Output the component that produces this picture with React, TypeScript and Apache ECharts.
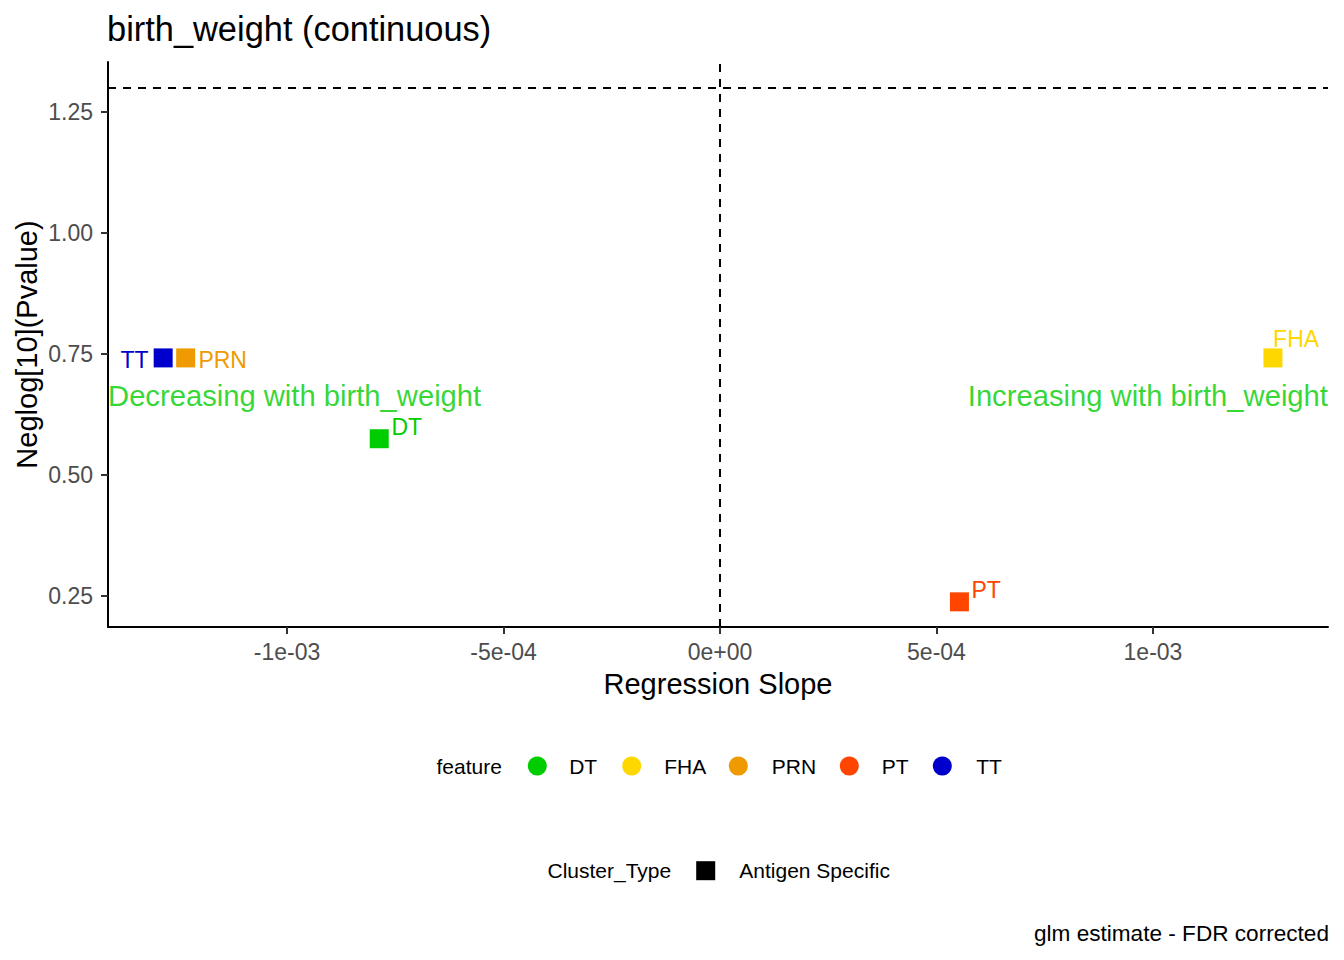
import React, { useEffect, useRef } from "react";
import * as echarts from "echarts";

const FONT = "'Liberation Sans', Arial, Helvetica, sans-serif";

// ---- data ----
const features = ["DT", "FHA", "PRN", "PT", "TT"];
const featureColors = ["#00CD00", "#FFD700", "#EE9A00", "#FF4500", "#0000CD"];
const regressionSlope = [-7.87e-4, 1.277e-3, -1.234e-3, 5.53e-4, -1.286e-3];
const neglogP = [0.575, 0.742, 0.742, 0.238, 0.742];

const xTickValues = [-1e-3, -5e-4, 0, 5e-4, 1e-3];
const xTickLabels = ["-1e-03", "-5e-04", "0e+00", "5e-04", "1e-03"];
const yTickValues = [0.25, 0.5, 0.75, 1.0, 1.25];
const yTickLabels = ["0.25", "0.50", "0.75", "1.00", "1.25"];

const xLimits = [-1.4134e-3, 1.4042e-3];
const yLimits = [0.186, 1.3534];

const significanceLine = 1.30103;
const zeroSlopeLine = 0;

const annotationTexts = ["Decreasing with birth_weight", "Increasing with birth_weight"];
const annotationY = 0.663;

const titleText = "birth_weight (continuous)";
const xAxisTitle = "Regression Slope";
const yAxisTitle = "Neglog[10](Pvalue)";
const captionText = "glm estimate - FDR corrected";
const featureLegendTitle = "feature";
const clusterLegendTitle = "Cluster_Type";
const clusterTypes = ["Antigen Specific"];

// ---- layout (style only) ----
// label placement relative to the square's top-left corner
const labelPlacement: Record<string, { pos: [number, number]; align: string }> = {
  DT: { pos: [21.7, -2.7], align: "left" },
  FHA: { pos: [9.7, -9.5], align: "left" },
  PRN: { pos: [22.2, 11.7], align: "left" },
  PT: { pos: [21.5, -2], align: "left" },
  TT: { pos: [-5, 11.7], align: "right" },
};
// feature legend key positions (circle centre x, text x)
const legendCircleX = [537.3, 631.7, 738.3, 849.3, 942.3];
const legendTextX = [569.2, 664.2, 771.8, 881.8, 976.2];
const legendY = 766;

function labelFor(values: number[], labels: string[], v: number) {
  const i = values.findIndex((t) => Math.abs(t - v) < 1e-12);
  return i >= 0 ? labels[i] : "";
}

function legendText(text: string, x: number, y: number, size: number, align = "left") {
  return {
    type: "text",
    x,
    y,
    silent: true,
    style: {
      text,
      fontSize: size,
      fontFamily: FONT,
      fill: "#000",
      align,
      verticalAlign: "middle",
      textAlign: align,
      textVerticalAlign: "middle",
    },
  };
}

export default function App() {
  const ref = useRef<HTMLDivElement>(null);

  useEffect(() => {
    document.body.style.margin = "0";
    if (!ref.current) return;
    const chart = echarts.init(ref.current, undefined, { renderer: "svg" });

    const featureSeries = features.map((f, i) => ({
      name: f,
      type: "scatter",
      symbol: "rect",
      symbolSize: 19,
      itemStyle: { color: featureColors[i], opacity: 1 },
      z: 3,
      data: [
        {
          value: [regressionSlope[i], neglogP[i]],
          label: {
            show: true,
            formatter: f,
            position: labelPlacement[f].pos,
            align: labelPlacement[f].align,
            verticalAlign: "middle",
            color: featureColors[i],
            fontSize: 23,
            fontFamily: FONT,
          },
        },
      ],
    }));

    const annotationSeries = {
      name: "annotations",
      type: "scatter",
      symbol: "circle",
      symbolSize: 0.1,
      clip: false,
      silent: true,
      itemStyle: { color: "rgba(0,0,0,0)" },
      z: 2,
      data: [
        {
          value: [xLimits[0], annotationY],
          label: {
            show: true,
            formatter: annotationTexts[0],
            position: "right",
            distance: 0,
            align: "left",
            verticalAlign: "middle",
            color: "#00CD00",
            fontSize: 29.2,
            fontFamily: FONT,
          },
        },
        {
          value: [xLimits[1], annotationY],
          label: {
            show: true,
            formatter: annotationTexts[1],
            position: "left",
            distance: 0,
            align: "right",
            verticalAlign: "middle",
            color: "#00CD00",
            fontSize: 29.2,
            fontFamily: FONT,
          },
        },
      ],
      markLine: {
        silent: true,
        symbol: ["none", "none"],
        label: { show: false },
        lineStyle: { color: "#000", width: 2, type: [8, 7] },
        data: [{ yAxis: significanceLine }, { xAxis: zeroSlopeLine }],
      },
    };

    const legendGraphics: any[] = [legendText(featureLegendTitle, 436.5, legendY, 21)];
    features.forEach((f, i) => {
      legendGraphics.push({
        type: "circle",
        silent: true,
        shape: { cx: legendCircleX[i], cy: legendY, r: 9.5 },
        style: { fill: featureColors[i] },
      });
      legendGraphics.push(legendText(f, legendTextX[i], legendY, 21));
    });

    const option: any = {
      animation: false,
      backgroundColor: "#ffffff",
      textStyle: { fontFamily: FONT },
      title: {
        text: titleText,
        left: 107,
        top: 12,
        padding: 0,
        textStyle: { fontSize: 34.4, fontWeight: "normal", color: "#000", fontFamily: FONT },
      },
      grid: { left: 108, right: 16, top: 62, bottom: 333, containLabel: false },
      xAxis: {
        type: "value",
        min: xLimits[0],
        max: xLimits[1],
        name: xAxisTitle,
        nameLocation: "middle",
        nameGap: 42,
        nameMoveOverlap: false,
        nameTextStyle: { fontSize: 29, color: "#000", fontFamily: FONT },
        axisLine: { show: true, onZero: false, lineStyle: { color: "#000", width: 2 } },
        axisTick: {
          show: true,
          length: 7,
          customValues: xTickValues,
          lineStyle: { color: "#333", width: 2 },
        },
        axisLabel: {
          show: true,
          customValues: xTickValues,
          margin: 13,
          fontSize: 23,
          color: "#4D4D4D",
          fontFamily: FONT,
          formatter: (v: number) => labelFor(xTickValues, xTickLabels, v),
        },
        splitLine: { show: false },
      },
      yAxis: {
        type: "value",
        min: yLimits[0],
        max: yLimits[1],
        name: yAxisTitle,
        nameLocation: "middle",
        nameGap: 67,
        nameMoveOverlap: false,
        nameRotate: 90,
        nameTextStyle: { fontSize: 29, color: "#000", fontFamily: FONT },
        axisLine: { show: true, onZero: false, lineStyle: { color: "#000", width: 2 } },
        axisTick: {
          show: true,
          length: 7,
          customValues: yTickValues,
          lineStyle: { color: "#333", width: 2 },
        },
        axisLabel: {
          show: true,
          customValues: yTickValues,
          margin: 15,
          fontSize: 23,
          color: "#4D4D4D",
          fontFamily: FONT,
          formatter: (v: number) => labelFor(yTickValues, yTickLabels, v),
        },
        splitLine: { show: false },
      },
      graphic: [
        ...legendGraphics,
        legendText(clusterLegendTitle, 547.5, 870.7, 21),
        {
          type: "rect",
          x: 696.2,
          y: 861.2,
          silent: true,
          shape: { x: 0, y: 0, width: 19, height: 19 },
          style: { fill: "#000" },
        },
        legendText(clusterTypes[0], 739.3, 870.7, 21),
        legendText(captionText, 1329, 933, 22.6, "right"),
      ],
      series: [...featureSeries, annotationSeries],
    };

    chart.setOption(option);
    return () => {
      chart.dispose();
    };
  }, []);

  return <div ref={ref} style={{ width: 1344, height: 960 }} />;
}
